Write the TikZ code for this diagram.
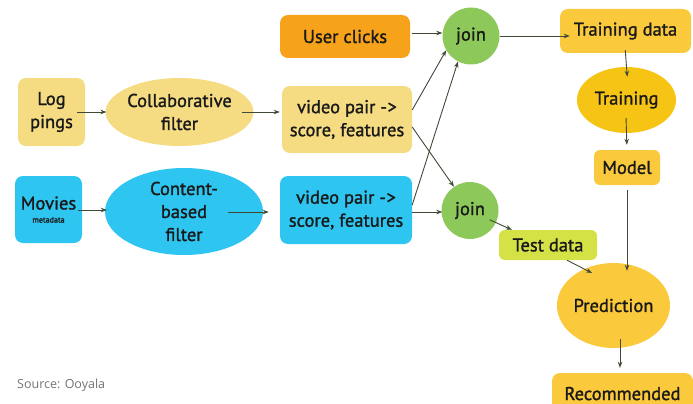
\documentclass[tikz,border=0pt]{standalone}
\usepackage{fontspec}
\setmainfont{PT Sans}[BoldFont=PT Sans, BoldFeatures={FakeBold=1.3}]
\newfontfamily\srcfont{Open Sans}
\usetikzlibrary{arrows.meta,shapes.geometric,calc}
\definecolor{paley}{HTML}{F5DC82}
\definecolor{orng}{HTML}{F7A21B}
\definecolor{cyn}{HTML}{2EC5F0}
\definecolor{grn}{HTML}{8DC95A}
\definecolor{gold}{HTML}{FAC93C}
\definecolor{goldd}{HTML}{F6C415}
\definecolor{lime}{HTML}{D5E246}
\definecolor{arr}{HTML}{3E4A36}
\begin{document}
\begin{tikzpicture}[x=1pt,y=-1pt,
  every node/.style={font=\bfseries\fontsize{18.5}{23}\selectfont, text=black!90, align=center, inner sep=0pt},
  rbox/.style={rectangle, rounded corners=8pt, draw=none},
  ell/.style={ellipse, draw=none},
  circ/.style={circle, draw=none, fill=grn, minimum size=57pt},
  conn/.style={draw=arr, line width=0.9pt, -{Stealth[length=6pt,width=4.5pt]}}
]
\useasboundingbox (0,0) rectangle (693,404);
% nodes
\node[rbox, fill=orng, minimum width=130pt, minimum height=43pt] (uc) at (345,36.5) {User clicks};
\node[rbox, fill=paley, minimum width=67pt, minimum height=68pt] (log) at (51.5,112) {Log\\pings};
\node[ell, fill=paley, minimum width=145pt, minimum height=68pt] (cf) at (179.5,112) {Collaborative\\filter};
\node[rbox, fill=paley, minimum width=130pt, minimum height=67pt] (vp1) at (347,119.5) {video pair -\kern0.5pt>\\score, features};
\node[rbox, fill=cyn, minimum width=67pt, minimum height=67pt] (mov) at (48.5,209.5) {Movies\\[-10pt]{\fontsize{8}{9}\selectfont metadata}};
\node[ell, fill=cyn, minimum width=158pt, minimum height=87pt] (cb) at (184,211.5) {Content-\\based\\filter};
\node[rbox, fill=cyn, minimum width=132pt, minimum height=68pt] (vp2) at (346,210) {video pair -\kern0.5pt>\\score, features};
\node[circ] (j1) at (471,36) {join};
\node[circ] (j2) at (470,210.5) {join};
\node[rbox, fill=gold, minimum width=131pt, minimum height=44pt] (td) at (625.5,31) {Training data};
\node[ell, fill=goldd, minimum width=99pt, minimum height=66pt] (tr) at (626.5,100) {Training};
\node[rbox, fill=gold, minimum width=66pt, minimum height=35pt, rounded corners=6pt] (mo) at (627,167.5) {Model};
\node[rbox, fill=lime, minimum width=98pt, minimum height=30pt, rounded corners=6pt] (te) at (548,245) {Test data};
\node[ell, fill=gold, minimum width=105pt, minimum height=85pt] (pr) at (613.5,305.5) {Prediction};
\node[rbox, fill=gold, minimum width=141pt, minimum height=44pt, text depth=0pt] (rec) at (622.5,395) {\raisebox{3pt}{Recommended}};
\node[anchor=base west, font=\srcfont\fontsize{12.5}{14}\selectfont, text=black!55] (src) at (17,388) {Source: Ooyala};
% connectors
\draw[conn, shorten <=-8pt, shorten >=-1pt] (log.east) -- (log.east -| cf.west);
\draw[conn, shorten <=-12pt, shorten >=2pt] (cf.east) -- (cf.east -| vp1.west);
\draw[conn, shorten <=-4pt, shorten >=-2pt] ([yshift=-0.5pt]mov.east) -- ([yshift=-0.5pt]mov.east -| cb.west);
\draw[conn, shorten <=-35pt, shorten >=11pt] ([yshift=-0.5pt]cb.east) -- ([yshift=-0.5pt]cb.east -| vp2.west);
\draw[conn, shorten <=2pt, shorten >=0pt] ([yshift=3.5pt]uc.east) -- ([yshift=3.5pt]uc.east -| j1.west);
\draw[conn] ([yshift=9.5pt]vp1.east) -- (j1.210);
\draw[conn] ([yshift=5pt]vp2.east) -- (j1.243);
\draw[conn] ([yshift=-7.5pt]vp1.east) -- (j2.124);
\draw[conn, shorten >=-1pt] ([yshift=-2pt]vp2.east) -- ([yshift=-2pt]vp2.east -| j2.west);
\draw[conn, shorten >=-10pt] (j1.east) -- (j1.east -| td.west);
\draw[conn, shorten <=-3pt, shorten >=-10pt] (td.south) -- (tr.north);
\draw[conn, shorten <=-15pt, shorten >=5pt] (tr.south) -- (mo.north);
\draw[conn, shorten <=5pt, shorten >=-8pt] (mo.south) -- (mo.south |- pr.north);
\draw[conn, shorten <=-7pt] (j2.335) -- ([xshift=13pt]te.north west);
\draw[conn] ([xshift=19pt]te.south) -- ($(pr.center)+(-21.5,-32.5)$);
\draw[conn, shorten <=-9pt, shorten >=5pt] ([xshift=6.5pt]pr.south) -- ([xshift=-2.5pt]rec.north);
\end{tikzpicture}
\end{document}
